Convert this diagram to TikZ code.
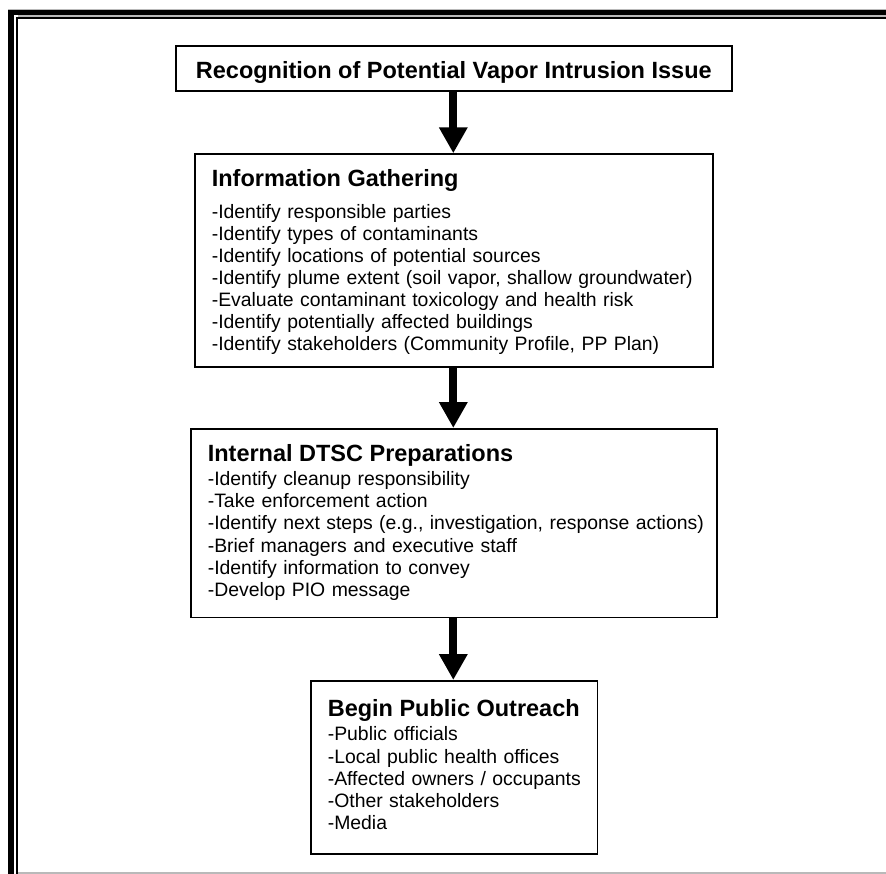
\documentclass[tikz,border=0pt]{standalone}
\usepackage{fontspec}
\setmainfont{Liberation Sans}
\usetikzlibrary{arrows.meta}
\newcommand\boxtitle{\fontsize{23.5}{22.1}\selectfont\bfseries}
\newcommand\toprow[1]{\rule{0pt}{#1}}
\begin{document}
\begin{tikzpicture}[x=1pt,y=-1pt,
  box/.style={draw=black, line width=1.6pt, anchor=north west, inner xsep=17pt,
    inner ysep=0pt, align=left, font=\fontsize{19.4}{22.1}\selectfont},
  bigarrow/.style={line width=8pt, -{Triangle[width=27pt,length=26pt]}}]
\useasboundingbox (0,0) rectangle (886,874);
% frame
\fill[gray!55] (8,9) rectangle (886,10);
\fill[gray!55] (17.5,15) rectangle (886,17);
\fill[gray!55] (17.5,872.3) rectangle (886,874);
\fill[black] (8,10) rectangle (886,15);
\fill[black] (8,10) rectangle (14,874);
\fill[black] (16,17) rectangle (886,18.7);
\fill[black] (16,17) rectangle (17.6,874);
% boxes
\node[draw=black, line width=1.6pt, anchor=north west, inner sep=0pt,
  minimum width=556pt, minimum height=45pt, text height=24.5pt, text depth=4.9pt,
  font=\boxtitle] (b1) at (175,45)
  {Recognition of Potential Vapor Intrusion Issue};
\node[box, text width=484pt, minimum height=212.7pt] (b2) at (194,153.3)
  {\begin{tabular}{@{}l@{}}
   \toprow{22.9pt}{\boxtitle Information Gathering}\\[9.5pt]
   -Identify responsible parties\\
   -Identify types of contaminants\\
   -Identify locations of potential sources\\
   -Identify plume extent (soil vapor, shallow groundwater)\\
   -Evaluate contaminant toxicology and health risk\\
   -Identify potentially affected buildings\\
   -Identify stakeholders (Community Profile, PP Plan)
   \end{tabular}};
\node[box, text width=492pt, minimum height=188.7pt] (b3) at (190,428)
  {\begin{tabular}{@{}l@{}}
   \toprow{18.1pt}{\boxtitle Internal DTSC Preparations}\\[2.2pt]
   -Identify cleanup responsibility\\
   -Take enforcement action\\
   -Identify next steps (e.g., investigation, response actions)\\
   -Brief managers and executive staff\\
   -Identify information to convey\\
   -Develop PIO message
   \end{tabular}};
\node[box, text width=252.6pt, minimum height=173pt] (b4) at (310,680)
  {\begin{tabular}{@{}l@{}}
   \toprow{18.1pt}{\boxtitle Begin Public Outreach}\\[2.2pt]
   -Public officials\\
   -Local public health offices\\
   -Affected owners / occupants\\
   -Other stakeholders\\
   -Media
   \end{tabular}};
% arrows
\coordinate (ax) at (453.3,0);
\draw[bigarrow] (b1.south -| ax) -- (b2.north -| ax);
\draw[bigarrow] (b2.south -| ax) -- (b3.north -| ax);
\draw[bigarrow] (b3.south -| ax) -- (b4.north -| ax);
\end{tikzpicture}
\end{document}
